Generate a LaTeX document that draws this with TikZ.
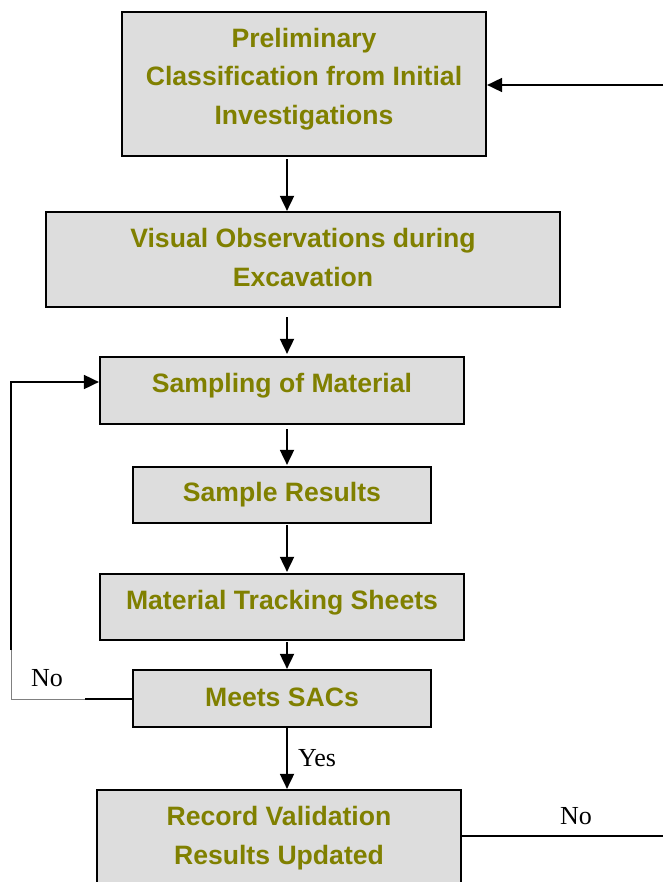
\documentclass[tikz,border=0pt]{standalone}
\usepackage{fontspec}
\setmainfont{Liberation Serif}
\newfontfamily\boxfont{Liberation Sans}
\usetikzlibrary{arrows.meta,calc}
\definecolor{olivetext}{RGB}{128,128,0}
\definecolor{boxgray}{RGB}{221,221,221}
\tikzset{
  stage/.style={draw=black, line width=2.2pt, fill=boxgray, rectangle,
    inner sep=0pt},
  stagetext/.style={inner sep=0pt, align=center, text=olivetext,
    font=\boxfont\bfseries\fontsize{26.6}{38.8}\selectfont},
  flow/.style={line width=1.8pt, -{Triangle[width=14pt,length=15pt]}},
  plainline/.style={line width=1.8pt},
  tag/.style={font=\fontsize{26}{30}\selectfont, inner sep=0pt}
}
\begin{document}
\begin{tikzpicture}[x=1pt,y=-1pt]
\useasboundingbox (0,0) rectangle (663,882);
\clip (0,0) rectangle (663,882);

% process boxes
\node[stage, minimum width=364pt, minimum height=144pt] (b1) at (304,84) {};
\node[stage, minimum width=514pt, minimum height=95pt] (b2) at (303,259.5) {};
\node[stage, minimum width=364pt, minimum height=67pt] (b3) at (282,390.5) {};
\node[stage, minimum width=298pt, minimum height=56pt] (b4) at (282,495) {};
\node[stage, minimum width=364pt, minimum height=66pt] (b5) at (282,607) {};
\node[stage, minimum width=298pt, minimum height=57pt] (b6) at (282,698.5) {};
\node[stage, minimum width=364pt, minimum height=94pt] (b7) at (279,837) {};

% box captions, sitting slightly above each box centre
\node[stagetext] (t1) at ($(b1)+(0,-5)$) {Preliminary\\Classification from Initial\\Investigations};
\node[stagetext] (t2) at ($(b2)+(0,-2)$) {Visual Observations during\\Excavation};
\node[stagetext] (t3) at ($(b3)+(0,-5)$) {Sampling of Material};
\node[stagetext] (t4) at ($(b4)+(0,0)$) {Sample Results};
\node[stagetext] (t5) at ($(b5)+(0,-4)$) {Material Tracking Sheets};
\node[stagetext] (t6) at ($(b6)+(0,-1)$) {Meets SACs};
\node[stagetext] (t7) at ($(b7)+(0,1)$) {Record Validation\\Results Updated};

% main vertical flow, offset slightly right of the box centres
\coordinate (ax) at (287,0);
\draw[flow] (b1.south -| ax) ++(0,2) -- (b2.north -| ax);
\draw[flow] (b2.south -| ax) ++(0,9) -- ($(b3.north -| ax)+(0,-2)$);
\draw[flow] (b3.south -| ax) ++(0,4) -- ($(b4.north -| ax)+(0,-1)$);
\draw[flow] (b4.south -| ax) ++(0,1) -- ($(b5.north -| ax)+(0,-1)$);
\draw[flow] (b5.south -| ax) ++(0,1) -- (b6.north -| ax);
\draw[flow] (b6.south -| ax) ++(0,0) -- (b7.north -| ax);
\node[tag, anchor=west] (yes) at (298,758) {Yes};

% return loop from "Meets SACs" back to sampling
\coordinate (lc) at (11,699);
\coordinate (lt) at (11,382);
\coordinate (lbox) at (85,699);
\coordinate (ltop) at (11,650);
\draw[plainline] (b6.west |- lc) -- (lbox);
\draw[flow] (ltop) -- (lt) -- (b3.west |- lt);
\draw[line width=0.6pt, draw=gray] (lbox) -- (lc) -- (ltop);
\node[tag] (no1) at (47,678) {No};

% external links on the right
\coordinate (rin) at (663,85);
\draw[flow] (rin) -- (b1.east |- rin);
\coordinate (rout) at (663,836);
\draw[plainline] (b7.east |- rout) -- (rout);
\node[tag] (no2) at (576,816) {No};
\end{tikzpicture}
\end{document}
